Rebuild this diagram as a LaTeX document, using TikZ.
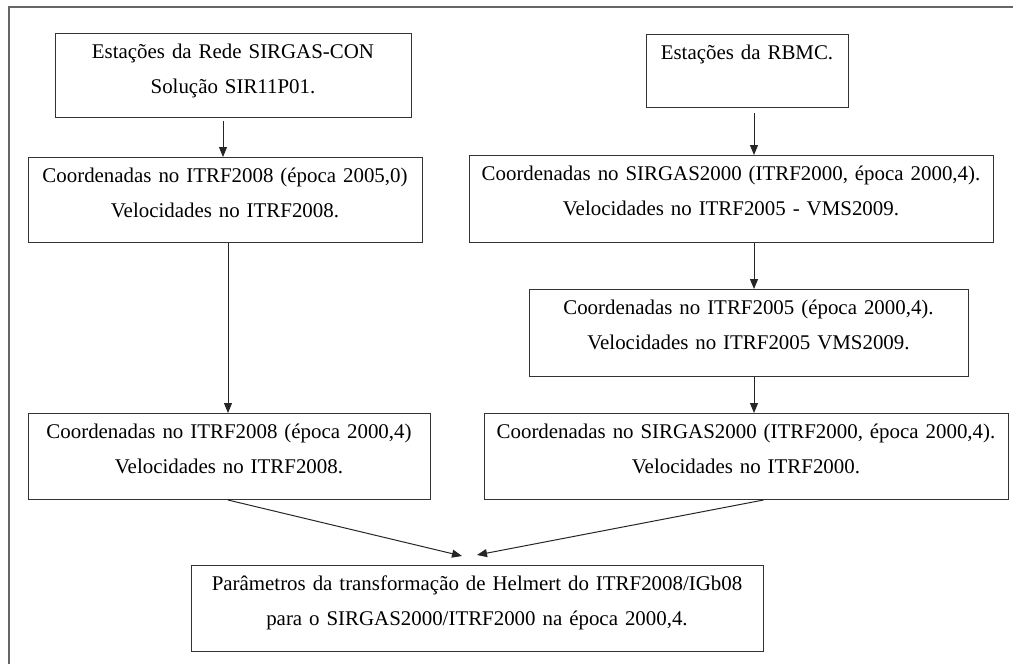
\documentclass[tikz,border=0pt]{standalone}
\usepackage{fontspec}
\setmainfont{Liberation Serif}
\usetikzlibrary{arrows.meta}
\begin{document}
\begin{tikzpicture}[x=1pt, y=-1pt,
    box/.style={draw=black!80, line width=1pt, anchor=north, inner sep=0pt,
        align=center, text height=25pt, text depth=#1,
        font=\fontsize{20.9}{35}\selectfont},
    box/.default=60pt,
    arr/.style={draw=black!85, line width=1pt, -{Triangle[length=10pt, width=8pt]}}]
    \useasboundingbox (0,0) rectangle (1013,664);
    % Frame
    \draw[black!60, line width=1.2pt] (9,664) -- (9,7) -- (1013,7);
    % Left column
    \node[box=59pt, text width=356pt] (sircon) at (233,33)
        {Estações da Rede SIRGAS-CON\\Solução SIR11P01.};
    \node[box=60pt, text width=394pt] (itrfa) at (225,157)
        {Coordenadas no ITRF2008 (época 2005,0)\\Velocidades no ITRF2008.};
    \node[box=61pt, text width=402pt] (itrfb) at (229,413)
        {Coordenadas no ITRF2008 (época 2000,4)\\Velocidades no ITRF2008.};
    % Right column
    \node[box=48pt, text width=202pt] (rbmc) at (747,34)
        {Estações da RBMC.};
    \node[box=62pt, text width=524pt] (sirgasa) at (731,155)
        {Coordenadas no SIRGAS2000 (ITRF2000, época 2000,4).\\Velocidades no ITRF2005 - VMS2009.};
    \node[box=62pt, text width=439pt] (itrf05) at (748.5,289)
        {Coordenadas no ITRF2005 (época 2000,4).\\Velocidades no ITRF2005 VMS2009.};
    \node[box=61pt, text width=524pt] (sirgasb) at (746,413)
        {Coordenadas no SIRGAS2000 (ITRF2000, época 2000,4).\\Velocidades no ITRF2000.};
    % Result
    \node[box=61pt, text width=572pt] (helmert) at (477,565)
        {Parâmetros da transformação de Helmert do ITRF2008/IGb08\\para o SIRGAS2000/ITRF2000 na época 2000,4.};
    % Arrows
    \coordinate (ltop) at (223,0);
    \coordinate (lcol) at (228,0);
    \coordinate (rcol) at (754,0);
    \coordinate (tipl) at (462,556);
    \coordinate (tipr) at (477,555);
    \draw[arr, shorten <=3pt] (sircon.south -| ltop) -- (itrfa.north -| ltop);
    \draw[arr] (itrfa.south -| lcol) -- (itrfb.north -| lcol);
    \draw[arr, shorten <=5pt] (rbmc.south -| rcol) -- (sirgasa.north -| rcol);
    \draw[arr] (sirgasa.south -| rcol) -- (itrf05.north -| rcol);
    \draw[arr] (itrf05.south -| rcol) -- (sirgasb.north -| rcol);
    \draw[arr] (itrfb.south -| lcol) -- (tipl);
    \draw[arr] (sirgasb.south -| helmert.east) -- (tipr);
\end{tikzpicture}
\end{document}
